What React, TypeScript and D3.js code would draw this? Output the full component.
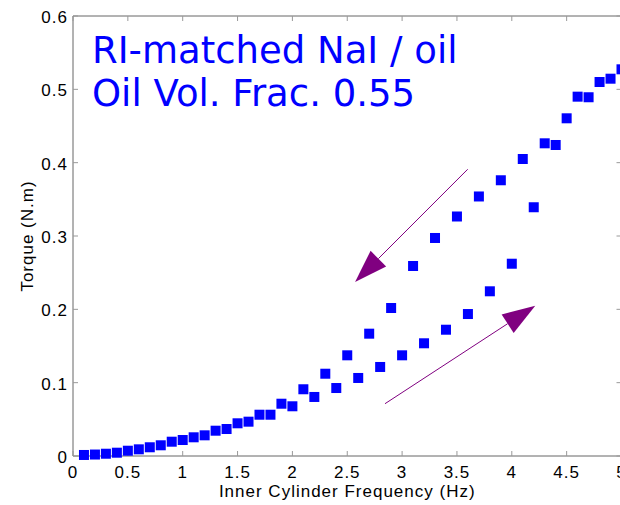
import React from "react";
import * as d3 from "d3";

const freq = [
  0.1, 0.2, 0.3, 0.4, 0.5, 0.6, 0.7, 0.8, 0.9, 1.0,
  1.1, 1.2, 1.3, 1.4, 1.5, 1.6, 1.7, 1.8, 1.9, 2.0,
  2.1, 2.2, 2.3, 2.4, 2.5, 2.6, 2.7, 2.8, 2.9, 3.0,
  3.1, 3.2, 3.3, 3.4, 3.5, 3.6, 3.7, 3.8, 3.9, 4.0,
  4.1, 4.2, 4.3, 4.4, 4.5, 4.6, 4.7, 4.8, 4.9, 5.0,
];
const torque = [
  0.0014, 0.002, 0.0031, 0.0045, 0.0072, 0.0091, 0.0119, 0.0146, 0.0195, 0.0218,
  0.0255, 0.0282, 0.0345, 0.0368, 0.0446, 0.0468, 0.0563, 0.0563, 0.0713, 0.0678,
  0.091, 0.0805, 0.1122, 0.0927, 0.1373, 0.1064, 0.1668, 0.1214, 0.2018, 0.1373,
  0.2591, 0.1537, 0.2973, 0.1722, 0.3266, 0.1936, 0.3539, 0.2246, 0.376, 0.2622,
  0.405, 0.3392, 0.4264, 0.4241, 0.4605, 0.49, 0.4892, 0.51, 0.5145, 0.5273,
];

const xTicks = [0, 0.5, 1, 1.5, 2, 2.5, 3, 3.5, 4, 4.5, 5];
const yTicks = [0, 0.1, 0.2, 0.3, 0.4, 0.5, 0.6];
const xTickLabels = ["0", "0.5", "1", "1.5", "2", "2.5", "3", "3.5", "4", "4.5", "5"];
const yTickLabels = ["0", "0.1", "0.2", "0.3", "0.4", "0.5", "0.6"];

const titleLines = ["RI-matched NaI / oil", "Oil Vol. Frac. 0.55"];
const xLabel = "Inner Cylinder Frequency (Hz)";
const yLabel = "Torque (N.m)";

// annotation arrows in data coordinates: [x0, y0, x1(tip), y1(tip)]
const arrowDown = [3.598, 0.391, 2.571, 0.2373];
const arrowUp = [2.844, 0.0713, 4.214, 0.205];

const W = 620;
const H = 505;
const left = 73;
const right = 621.5;
const top = 16;
const bottom = 456;

export default function App() {
  const x = d3.scaleLinear().domain([0, 5]).range([left, right]);
  const y = d3.scaleLinear().domain([0, 0.6]).range([bottom, top]);
  const tickFont = "'Liberation Sans', Arial, Helvetica, sans-serif";
  const tl = 5;
  const ms = 10;

  const arrow = (a: number[], key: string) => {
    const x0 = x(a[0]), y0 = y(a[1]), x1 = x(a[2]), y1 = y(a[3]);
    const dx = x1 - x0, dy = y1 - y0;
    const len = Math.sqrt(dx * dx + dy * dy);
    const ux = dx / len, uy = dy / len;
    const hl = 33, hw = 11;
    const bx = x1 - ux * hl, by = y1 - uy * hl;
    const px = -uy, py = ux;
    const pts = [
      [x1, y1],
      [bx + px * hw, by + py * hw],
      [bx - px * hw, by - py * hw],
    ];
    return (
      <g key={key}>
        <line x1={x0} y1={y0} x2={bx} y2={by} stroke="#800080" strokeWidth={1} />
        <polygon points={pts.map((p) => p.join(",")).join(" ")} fill="#800080" />
      </g>
    );
  };

  return (
    <svg
      width={W}
      height={H}
      style={{ position: "absolute", left: 0, top: 0, display: "block", background: "#fff" }}
    >
      <rect x={0} y={0} width={W} height={H} fill="#fff" />
      {/* axes box */}
      <line x1={left} y1={bottom} x2={right} y2={bottom} stroke="#666" strokeWidth={1} />
      <line x1={left} y1={top} x2={right} y2={top} stroke="#666" strokeWidth={1} />
      <line x1={left} y1={top} x2={left} y2={bottom} stroke="#666" strokeWidth={1} />
      <line x1={right} y1={top} x2={right} y2={bottom} stroke="#666" strokeWidth={1} />
      {/* x ticks */}
      {xTicks.map((t, i) => (
        <g key={"xt" + i}>
          <line x1={x(t)} x2={x(t)} y1={bottom} y2={bottom - tl} stroke="#999" />
          <line x1={x(t)} x2={x(t)} y1={top} y2={top + tl} stroke="#999" />
          <text
            x={x(t)}
            y={478}
            textAnchor="middle"
            fontFamily={tickFont}
            fontSize={17}
            letterSpacing={1}
            fill="#000"
          >
            {xTickLabels[i]}
          </text>
        </g>
      ))}
      {/* y ticks */}
      {yTicks.map((t, i) => (
        <g key={"yt" + i}>
          <line x1={left} x2={left + tl} y1={y(t)} y2={y(t)} stroke="#999" />
          <line x1={right} x2={right - tl} y1={y(t)} y2={y(t)} stroke="#999" />
          <text
            x={68}
            y={y(t) + 7}
            textAnchor="end"
            fontFamily={tickFont}
            fontSize={17}
            letterSpacing={1}
            fill="#000"
          >
            {yTickLabels[i]}
          </text>
        </g>
      ))}
      {/* axis labels */}
      <text
        x={(left + right) / 2}
        y={497}
        textAnchor="middle"
        fontFamily={tickFont}
        fontSize={17}
        letterSpacing={1}
        fill="#000"
      >
        {xLabel}
      </text>
      <text
        transform={`translate(33,${(top + bottom) / 2}) rotate(-90)`}
        textAnchor="middle"
        fontFamily={tickFont}
        fontSize={17}
        letterSpacing={1}
        fill="#000"
      >
        {yLabel}
      </text>
      {/* data */}
      {freq.map((f, i) => (
        <rect
          key={"p" + i}
          x={x(f) - ms / 2}
          y={y(torque[i]) - ms / 2}
          width={ms}
          height={ms}
          fill="#0000ff"
        />
      ))}
      {/* arrows */}
      {arrow(arrowDown, "a1")}
      {arrow(arrowUp, "a2")}
      {/* title text */}
      {titleLines.map((t, i) => (
        <text
          key={"t" + i}
          x={92}
          y={62.5 + i * 43.5}
          fontFamily="'DejaVu Sans', sans-serif"
          fontSize={37}
          fill="#0000ff"
        >
          {t}
        </text>
      ))}
    </svg>
  );
}
